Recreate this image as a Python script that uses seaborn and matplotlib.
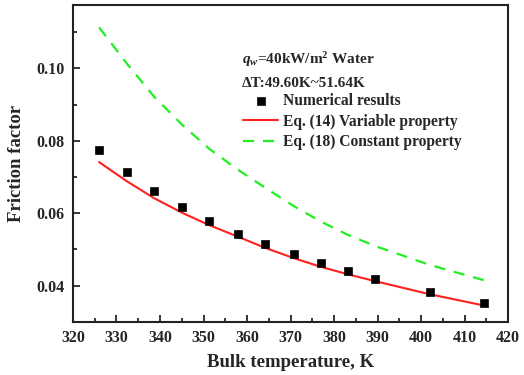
import numpy as np
import pandas as pd
import matplotlib
matplotlib.use("Agg")
import matplotlib.pyplot as plt
import seaborn as sns
from matplotlib.ticker import MultipleLocator, FormatStrFormatter

# Bulk temperature (K) and friction factor values
temp_num = [326.0, 332.4, 338.7, 345.1, 351.3, 357.9, 364.2, 370.7, 376.9, 383.2, 389.5, 402.0, 414.4]
f_num = [0.0774, 0.0714, 0.0662, 0.0618, 0.0578, 0.0543, 0.0514, 0.0487, 0.0462, 0.0439, 0.0418, 0.0383, 0.0353]

# Eq. (14) variable property
f_eq14 = [0.0741, 0.0688, 0.0641, 0.0601, 0.0567, 0.0535, 0.0504, 0.0476, 0.0452, 0.0431, 0.0412, 0.0376, 0.0345]
# Eq. (18) constant property
f_eq18 = [0.1113, 0.1013, 0.0921, 0.0844, 0.0778, 0.0720, 0.0670, 0.0620, 0.0577, 0.0540, 0.0509, 0.0457, 0.0415]

df = pd.DataFrame({"T": temp_num, "num": f_num, "eq14": f_eq14, "eq18": f_eq18})

sns.set_style("ticks")
plt.rcParams['font.family'] = ['Liberation Serif', 'DejaVu Serif']
plt.rcParams['font.weight'] = 'bold'
plt.rcParams['mathtext.fontset'] = 'custom'
plt.rcParams['mathtext.rm'] = 'Liberation Serif:bold'
plt.rcParams['mathtext.it'] = 'Liberation Serif:bold:italic'
plt.rcParams['mathtext.bf'] = 'Liberation Serif:bold'

fig = plt.figure(figsize=(5.24, 3.75), dpi=100)
ax = fig.add_axes([0.1393, 0.142, 0.8302, 0.8447])

sns.lineplot(data=df, x="T", y="eq18", ax=ax, color="#22ee22", lw=1.6,
             linestyle=(0, (5, 4)), label="Eq. (18) Constant property")
sns.lineplot(data=df, x="T", y="eq14", ax=ax, color="#ff2020", lw=1.5,
             label="Eq. (14) Variable property")
sns.scatterplot(data=df, x="T", y="num", ax=ax, marker="s", color="black",
                s=36, edgecolor="black", label="Numerical results", zorder=3)

ax.set_xlim(320, 420)
ax.set_ylim(0.030, 0.1175)
ax.xaxis.set_major_locator(MultipleLocator(10))
ax.xaxis.set_minor_locator(MultipleLocator(5))
ax.yaxis.set_major_locator(MultipleLocator(0.02))
ax.yaxis.set_minor_locator(MultipleLocator(0.01))
ax.yaxis.set_major_formatter(FormatStrFormatter('%.2f'))
ax.tick_params(which='major', direction='in', length=5, width=1.3, labelsize=11.5, pad=6)
ax.tick_params(which='minor', direction='in', length=3, width=1.3)
ax.tick_params(top=False, right=False, which='both')
for s in ax.spines.values():
    s.set_visible(True)
    s.set_linewidth(1.5)
    s.set_color("#222222")

ax.set_xlabel("Bulk temperature, K", fontsize=13.5, fontweight='bold', labelpad=6)
ax.set_ylabel("Friction factor", fontsize=13.5, fontweight='bold', labelpad=8)

ax.text(0.388, 0.815, r"$q_w$=40kW/m$^2$ Water", transform=ax.transAxes,
        fontsize=11, fontweight='bold', va='baseline')
ax.text(0.388, 0.741, "ΔT:49.60K~51.64K", transform=ax.transAxes,
        fontsize=11, fontweight='bold', va='baseline')

h, l = ax.get_legend_handles_labels()
order = [2, 1, 0]
ax.legend([h[i] for i in order], [l[i] for i in order], loc='upper left',
          bbox_to_anchor=(0.3908, 0.722), frameon=False,
          handlelength=2.25, handletextpad=0.32, labelspacing=0.3,
          borderaxespad=0, borderpad=0, prop={'weight': 'bold', 'size': 11.2})

fig.savefig("out.png", dpi=100)
